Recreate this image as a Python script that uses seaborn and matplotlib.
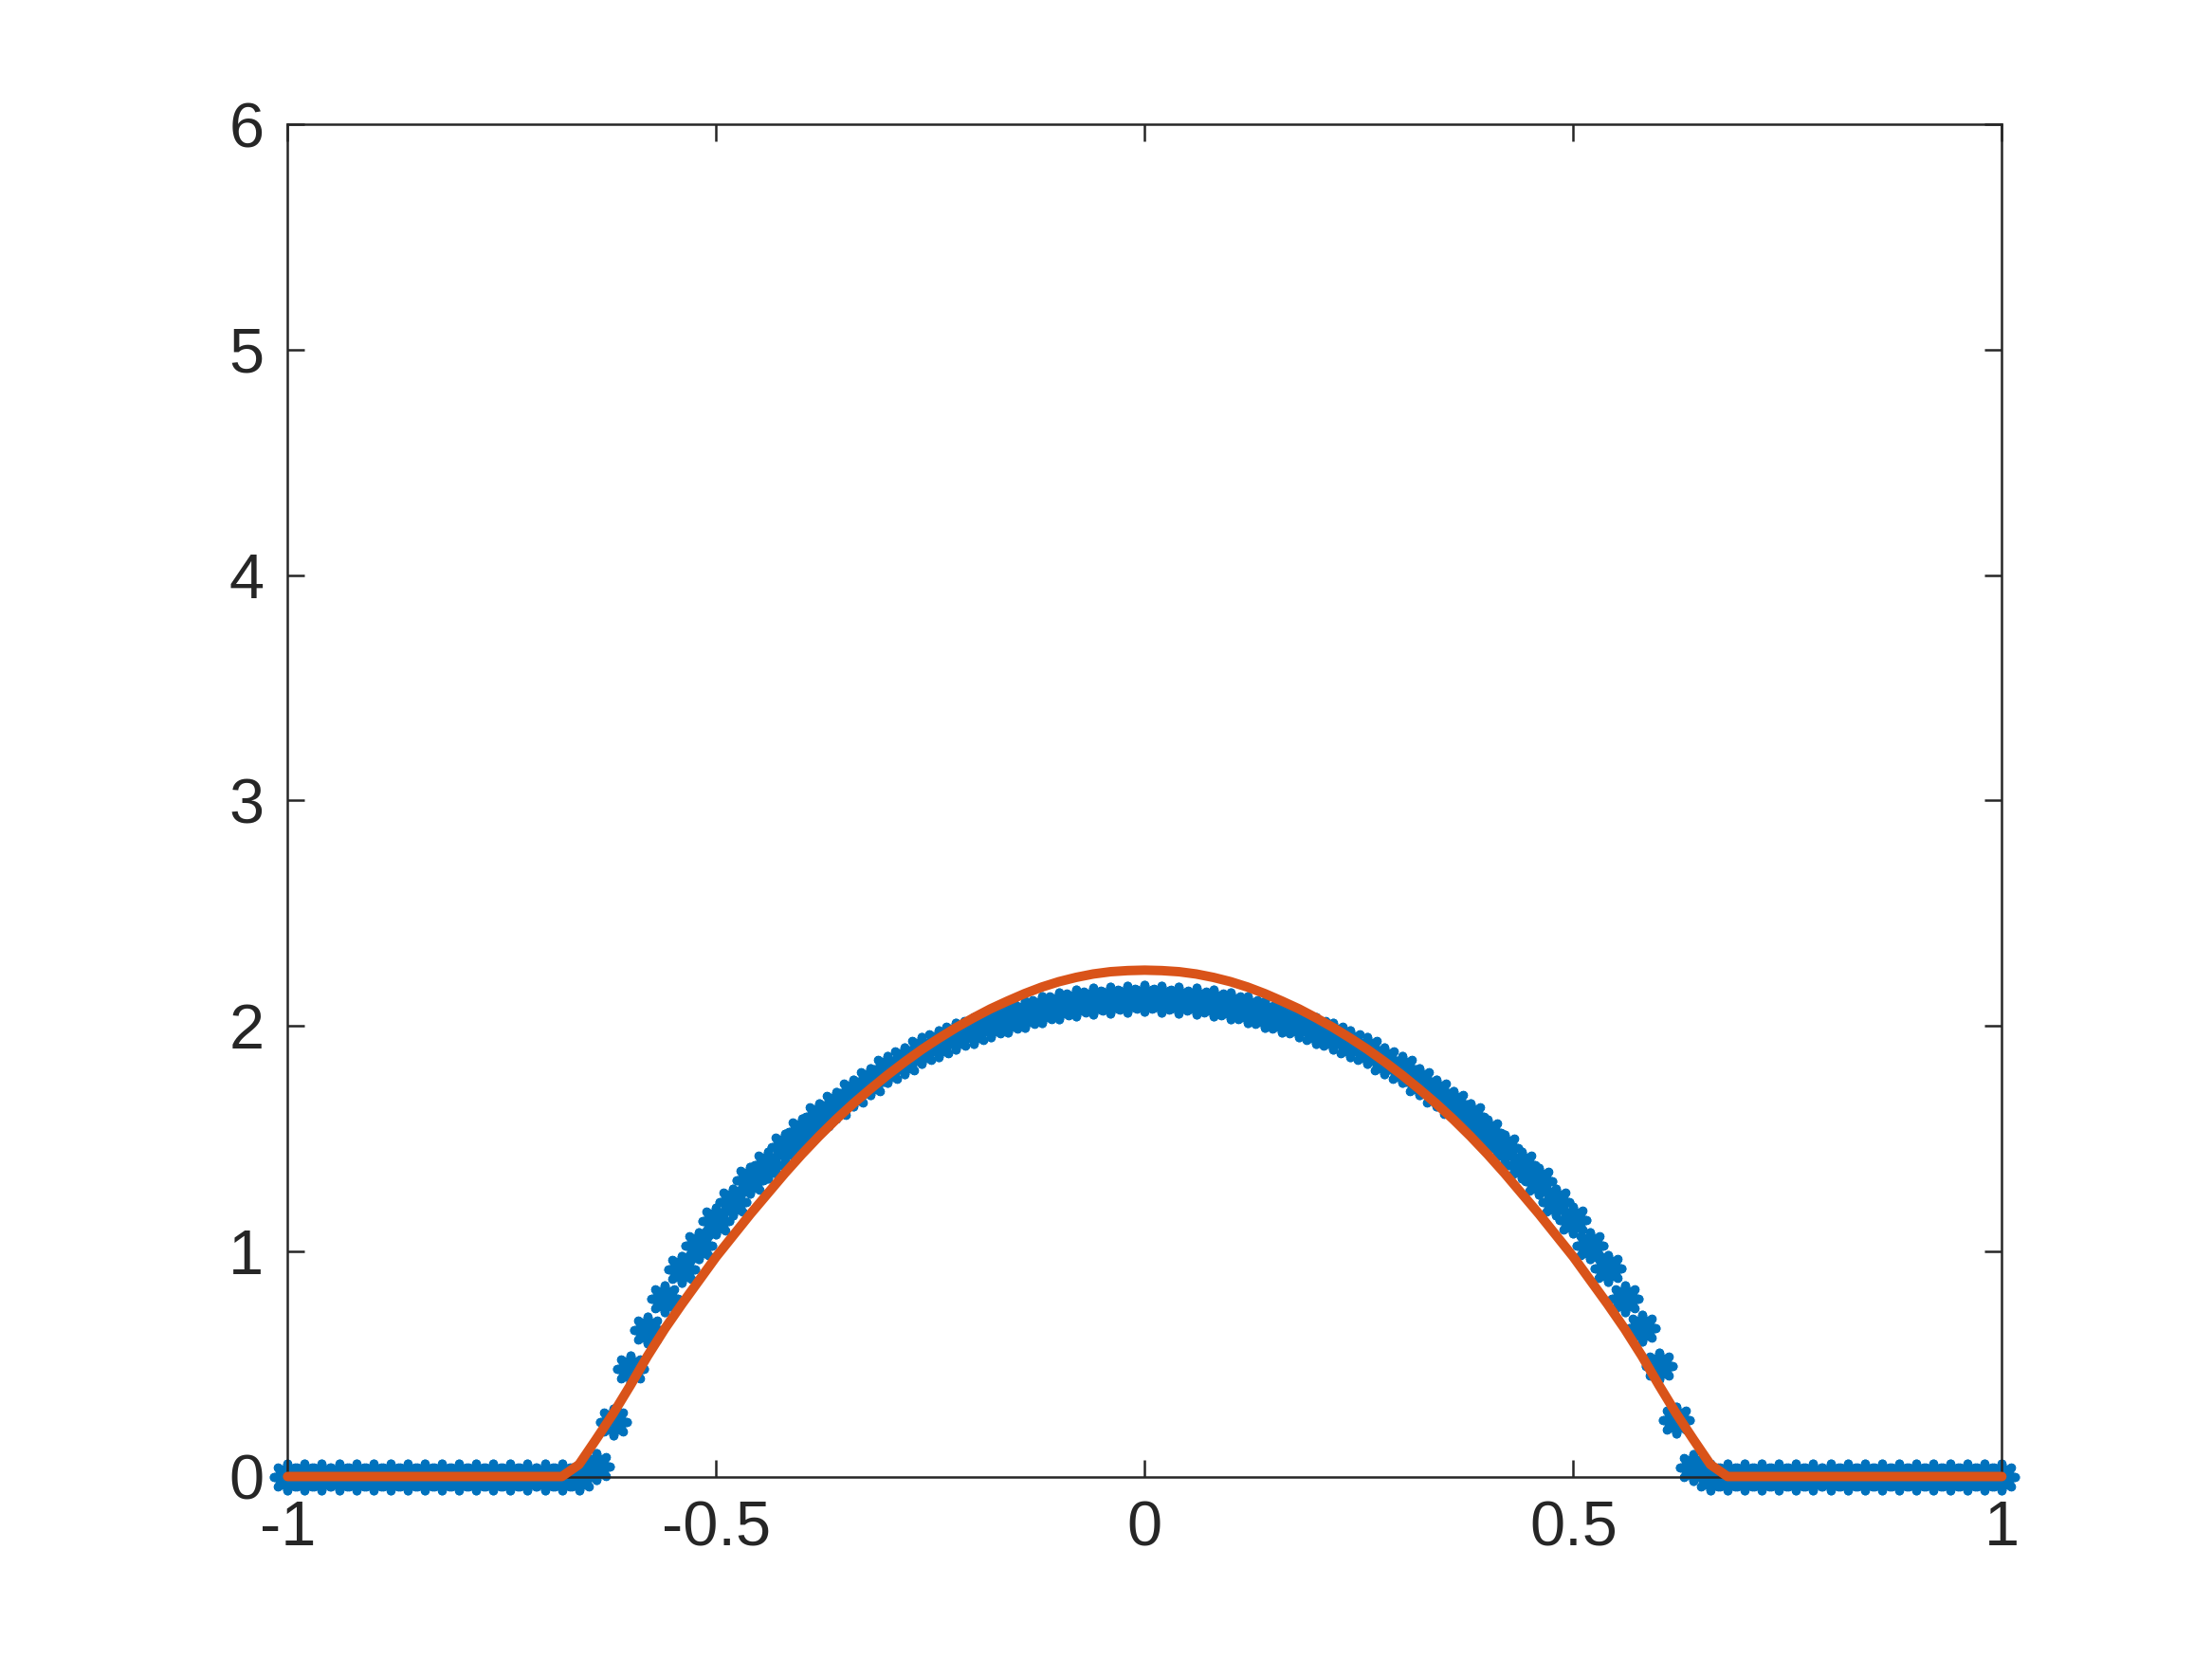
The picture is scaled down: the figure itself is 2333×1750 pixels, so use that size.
import numpy as np
import pandas as pd
import seaborn as sns
import matplotlib.pyplot as plt

# grid x = -1:0.02:1
x = np.linspace(-1, 1, 101)

# numerical solution (blue stars)
u_num = [0.0] * 18 + [
    0.045, 0.24, 0.477, 0.652, 0.79, 0.92, 1.024, 1.132, 1.218, 1.313,
    1.383, 1.46, 1.528, 1.595, 1.648, 1.70, 1.752, 1.805, 1.843, 1.89,
    1.92, 1.955, 1.978, 2.01, 2.03, 2.052, 2.072, 2.09, 2.10, 2.11,
    2.116, 2.12,
    2.122,
    2.12, 2.116, 2.11, 2.10, 2.09, 2.072, 2.052, 2.03, 2.01, 1.978,
    1.955, 1.92, 1.89, 1.843, 1.805, 1.752, 1.70, 1.65, 1.597, 1.527,
    1.457, 1.38, 1.31, 1.218, 1.136, 1.024, 0.923, 0.79, 0.657, 0.488,
    0.25, 0.04,
] + [0.0] * 18

# exact solution (red line)
u_exact = [0.0] * 17 + [
    0.053, 0.165, 0.28, 0.405, 0.535, 0.655, 0.765, 0.87, 0.975, 1.07,
    1.165, 1.255, 1.345, 1.43, 1.51, 1.585, 1.655, 1.72, 1.782, 1.84,
    1.895, 1.945, 1.992, 2.035, 2.075, 2.11, 2.143, 2.172, 2.196, 2.215,
    2.23, 2.24, 2.245,
    2.247,
    2.245, 2.24, 2.23, 2.215, 2.196, 2.172, 2.143, 2.11, 2.075, 2.035,
    1.992, 1.945, 1.895, 1.84, 1.782, 1.72, 1.655, 1.585, 1.51, 1.43,
    1.345, 1.255, 1.165, 1.07, 0.975, 0.87, 0.765, 0.655, 0.535, 0.405,
    0.28, 0.165, 0.053,
] + [0.0] * 17

xticks = [-1, -0.5, 0, 0.5, 1]
xticklabels = ["-1", "-0.5", "0", "0.5", "1"]
yticks = [0, 1, 2, 3, 4, 5, 6]

df = pd.DataFrame({"x": x, "num": u_num, "exact": u_exact})

sns.set_theme(style="white")
plt.rcParams["font.family"] = ["Liberation Sans", "DejaVu Sans"]
plt.rcParams["axes.unicode_minus"] = False

fig = plt.figure(figsize=(2333 / 300, 1750 / 300), dpi=300)
ax = fig.add_axes([0.13, 0.11, 0.775, 0.815])

sns.scatterplot(data=df, x="x", y="num", ax=ax, marker=(8, 2, 0), s=46,
                linewidth=2.3, color="#0072BD", clip_on=False, zorder=2)
sns.lineplot(data=df, x="x", y="exact", ax=ax, sort=False, estimator=None,
             color="#D95319", linewidth=2.4, clip_on=False, zorder=3)

ax.set_xlim(-1, 1)
ax.set_ylim(0, 6)
ax.set_xticks(xticks)
ax.set_xticklabels(xticklabels)
ax.set_yticks(yticks)
ax.set_xlabel("")
ax.set_ylabel("")

for s in ax.spines.values():
    s.set_color("#262626")
    s.set_linewidth(0.6)
ax.tick_params(direction="in", length=4.3, width=0.6, color="#262626",
               labelsize=16, labelcolor="#262626", pad=6,
               top=True, right=True, bottom=True, left=True)

plt.savefig("out.png", dpi=300, facecolor="white")
